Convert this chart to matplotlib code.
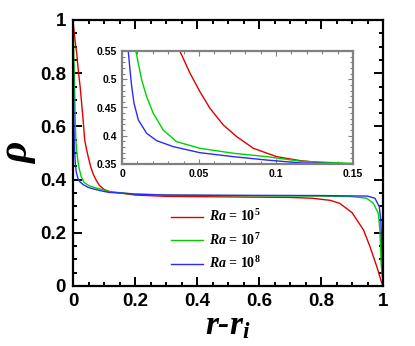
import matplotlib
matplotlib.use("Agg")
import matplotlib.pyplot as plt
from matplotlib.ticker import MultipleLocator

plt.rcParams['mathtext.fontset'] = 'custom'
plt.rcParams['mathtext.it'] = 'Liberation Serif:italic:bold'
plt.rcParams['mathtext.rm'] = 'Liberation Serif:bold'
plt.rcParams['mathtext.bf'] = 'Liberation Serif:bold'

labels = ['$Ra$ = 10$^5$', '$Ra$ = 10$^7$', '$Ra$ = 10$^8$']
colors = ['#e00000', '#00d000', '#2a2aff']

x_ra5 = [0.0, 0.004, 0.008, 0.012, 0.018, 0.023, 0.028, 0.033, 0.0377, 0.0442, 0.0506,
         0.0571, 0.0658, 0.0745, 0.0853, 0.1004, 0.1156, 0.13, 0.15, 0.2, 0.3, 0.5, 0.7,
         0.77, 0.83, 0.86, 0.9, 0.937, 0.958, 0.98, 0.995, 1.0]
y_ra5 = [1.0, 0.95, 0.91, 0.875, 0.80, 0.75, 0.685, 0.62, 0.549, 0.5105, 0.478,
         0.4486, 0.419, 0.3984, 0.3778, 0.363, 0.356, 0.352, 0.350, 0.342, 0.337, 0.335, 0.333,
         0.330, 0.322, 0.311, 0.276, 0.211, 0.148, 0.073, 0.015, 0.0]

x_ra7 = [0.0, 0.002, 0.005, 0.007, 0.00909, 0.0106, 0.0128, 0.016, 0.0203, 0.0268, 0.0355,
         0.0506, 0.0723, 0.094, 0.1156, 0.15, 0.2, 0.3, 0.5, 0.8, 0.9, 0.947, 0.969, 0.985,
         0.99, 0.994, 1.0]
y_ra7 = [1.0, 0.9, 0.75, 0.64, 0.549, 0.528, 0.4987, 0.469, 0.4397, 0.410, 0.3895,
         0.3778, 0.369, 0.363, 0.355, 0.351, 0.346, 0.342, 0.340, 0.338, 0.336, 0.330, 0.311, 0.273,
         0.21, 0.086, 0.0]

x_ra8 = [0.0, 0.001, 0.002, 0.003, 0.0041, 0.0052, 0.0063, 0.0078, 0.0106, 0.016, 0.0225,
         0.0333, 0.0506, 0.0723, 0.094, 0.1156, 0.15, 0.2, 0.3, 0.5, 0.8, 0.95, 0.974,
         0.988, 0.993, 0.996, 1.0]
y_ra8 = [1.0, 0.85, 0.72, 0.62, 0.549, 0.516, 0.487, 0.4575, 0.428, 0.4043, 0.3913,
         0.3807, 0.370, 0.363, 0.357, 0.352, 0.350, 0.345, 0.342, 0.341, 0.340, 0.338, 0.330,
         0.298, 0.248, 0.148, 0.0]

series = [(x_ra5, y_ra5), (x_ra7, y_ra7), (x_ra8, y_ra8)]

main_xticks = [0, 0.2, 0.4, 0.6, 0.8, 1]
main_xticklabels = ['0', '0.2', '0.4', '0.6', '0.8', '1']
main_yticks = [0, 0.2, 0.4, 0.6, 0.8, 1]
main_yticklabels = ['0', '0.2', '0.4', '0.6', '0.8', '1']
inset_xticks = [0, 0.05, 0.1, 0.15]
inset_xticklabels = ['0', '0.05', '0.1', '0.15']
inset_yticks = [0.35, 0.4, 0.45, 0.5, 0.55]
inset_yticklabels = ['0.35', '0.4', '0.45', '0.5', '0.55']

fig = plt.figure(figsize=(4.15, 3.46), dpi=100)
ax = fig.add_axes([73/415, 1-286/346, 310/415, 266/346])

for (xs, ys), c, lab in zip(series, colors, labels):
    ax.plot(xs, ys, color=c, lw=1.0, label=lab)

ax.set_xlim(0, 1)
ax.set_ylim(0, 1)
ax.set_xticks(main_xticks)
ax.set_xticklabels(main_xticklabels)
ax.set_yticks(main_yticks)
ax.set_yticklabels(main_yticklabels)
ax.xaxis.set_minor_locator(MultipleLocator(0.05))
ax.yaxis.set_minor_locator(MultipleLocator(0.05))
ax.tick_params(which='both', direction='in', top=True, right=True, width=1.4, color='black')
ax.tick_params(which='major', length=6.5, pad=5)
ax.tick_params(which='minor', length=3.2)
for lab in ax.get_xticklabels() + ax.get_yticklabels():
    lab.set_fontfamily('Liberation Sans')
    lab.set_fontweight('bold')
    lab.set_fontsize(13.5)
for s in ax.spines.values():
    s.set_linewidth(1.6)

ax.set_ylabel('ρ', fontsize=30, family='Liberation Serif', weight='bold',
              style='italic', labelpad=2)
ax.set_xlabel('$r$-$r_i$', fontsize=24, family='Liberation Serif', weight='bold',
              style='italic', labelpad=0)

leg = fig.legend(loc='center left', bbox_to_anchor=(171/415, 1-240/346), frameon=False,
                 prop={'family': 'Liberation Serif', 'weight': 'bold', 'size': 10},
                 handlelength=2.3, handletextpad=0.4, labelspacing=0.55,
                 borderpad=0, borderaxespad=0)

# inset
axi = fig.add_axes([122/415, 1-164/346, 231/415, 113/346])
for (xs, ys), c in zip(series, colors):
    axi.plot(xs, ys, color=c, lw=1.0)
axi.set_xlim(0, 0.15)
axi.set_ylim(0.35, 0.55)
axi.set_xticks(inset_xticks)
axi.set_xticklabels(inset_xticklabels)
axi.set_yticks(inset_yticks)
axi.set_yticklabels(inset_yticklabels)
axi.xaxis.set_minor_locator(MultipleLocator(0.01))
axi.yaxis.set_minor_locator(MultipleLocator(0.01))
axi.tick_params(which='both', direction='in', top=True, right=True, width=0.8,
                color='#808080', pad=3.5)
axi.tick_params(which='major', length=3.5)
axi.tick_params(which='minor', length=2)
for lab in axi.get_xticklabels() + axi.get_yticklabels():
    lab.set_fontfamily('Liberation Sans')
    lab.set_fontweight('bold')
    lab.set_fontsize(7.5)
for s in axi.spines.values():
    s.set_linewidth(1.6)
    s.set_color('#808080')

fig.savefig('out.png', dpi=100)
